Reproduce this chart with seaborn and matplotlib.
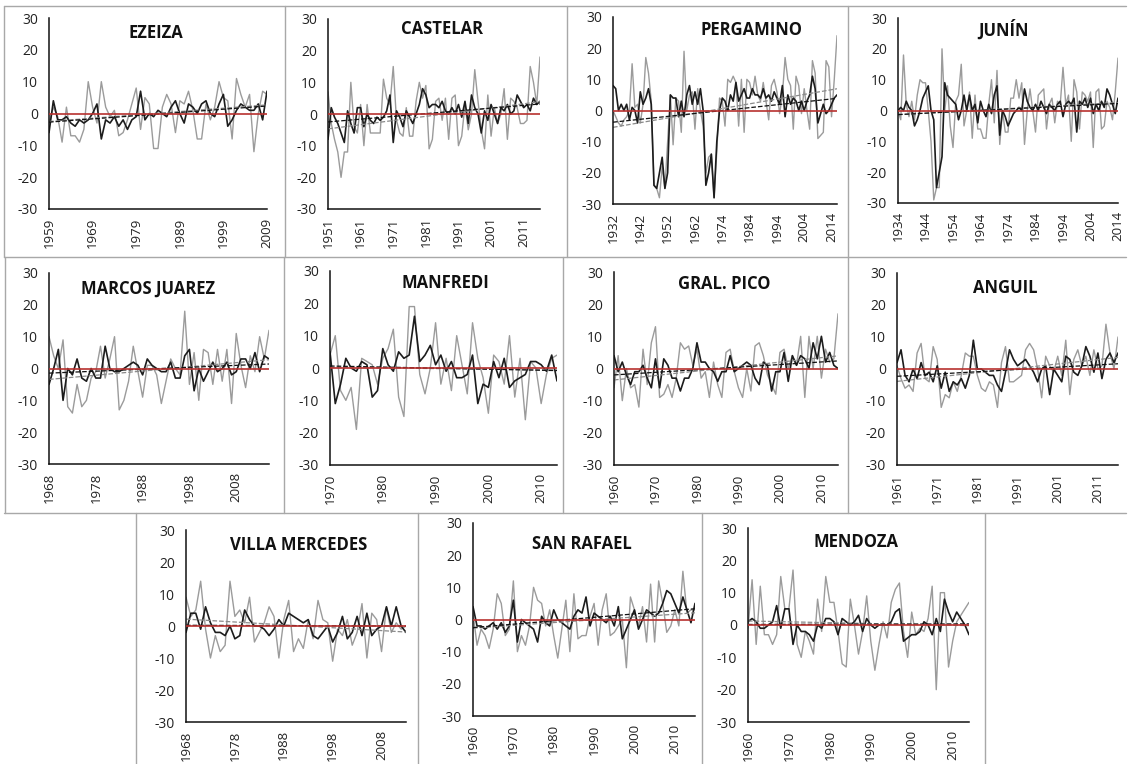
import numpy as np
import matplotlib
matplotlib.use("Agg")
import matplotlib.pyplot as plt
import seaborn as sns
from matplotlib.lines import Line2D

# ---------------- data ----------------
ezeiza_labels = ["1959", "1969", "1979", "1989", "1999", "2009"]
ezeiza_black = [-6, 4, -2, -2, -1, -3, -4, -2, -3, -2, 0, 3, -8, -2, -3, -1, -4, -2, -5, -2,
                -1, 7, -2, 0, -1, 1, 0, -1, 2, 4, 0, -3, 3, 2, 0, 3, 4, 0, -1, 3,
                6, -4, -2, 1, 3, 2, 1, 1, 3, -2, 7]
ezeiza_gray = [-3, 2, -1, -9, 2, -7, -7, -9, -5, 10, 2, -3, 10, 2, -1, 1, -7, -6, -2, 3,
               8, -5, 5, 3, -11, -11, 2, 6, 3, -6, 4, 3, 7, 1, -8, -8, 3, -2, 2, 10,
               5, 4, -8, 11, 6, 2, 6, -12, 0, 7, 6]

castelar_labels = ["1951", "1961", "1971", "1981", "1991", "2001", "2011"]
castelar_black = [-8, 2, -1, -3, -6, -9, 1, -3, -6, 2, 2, -4, 0, -2, -3, -1, -2, -1, 1, 6,
                  -9, 1, -1, -4, 1, -1, -3, 0, 3, 8, 6, 2, 3, 3, 2, 4, 1, 0, 2, 0,
                  3, -1, 4, -3, 6, 2, 0, -6, 1, -2, 3, 0, -3, 2, 1, 3, 0, 1, 6, 4,
                  2, 3, 1, 5, 3, 4]
castelar_gray = [7, -3, -8, -12, -20, -12, -12, 10, -4, -6, 3, -10, 3, -6, -6, -6, -6, 11, 5, 3,
                 15, -2, -6, -7, 2, -7, -7, 4, 10, 5, 9, -11, -8, 4, 5, -2, 5, -8, 5, 6,
                 -10, -7, 3, -5, 0, 14, 4, -5, -11, 6, -7, 2, -3, 0, 8, -8, 5, 4, 2, -3,
                 -3, -2, 15, 10, 3, 18]

pergamino_labels = ["1932", "1942", "1952", "1962", "1974", "1984", "1994", "2004", "2014"]
pergamino_black = [8, 7, 0, 2, 0, 2, -3, 1, 0, -4, 6, 2, 4, 7, 2, -24, -25, -20, -15, -25,
                   -20, 5, 4, 4, -2, 3, -2, 5, 8, 2, 6, 2, 7, 0, -24, -20, -14, -28, -10, 0,
                   4, 3, 0, 5, 3, 9, 3, 5, 7, 4, 4, 7, 5, 5, 4, 7, 4, 5, 3, 6,
                   4, 2, 8, -2, 5, 2, 4, 3, 0, 3, 0, 3, 5, 11, 7, -4, -1, 2, -1, 0,
                   2, 4, 5]
pergamino_gray = [0, -2, -4, -5, -3, -2, 0, 15, 1, 2, -4, 2, 17, 12, 3, -24, -25, -28, -18, -25,
                  -10, 5, -11, 4, 3, -7, 19, 0, 5, 6, -6, 7, 0, -5, -20, -15, -14, -28, -13, 4,
                  3, -5, 10, 9, 11, 9, -5, 10, -7, 10, 9, 5, 11, 5, 3, 9, 3, -3, 8, 10,
                  6, -1, 5, 17, 10, 8, -6, 11, 8, -1, 7, 0, -6, 16, 12, -9, -8, -7, 16, 14,
                  -2, 10, 24]

junin_labels = ["1934", "1944", "1954", "1964", "1974", "1984", "1994", "2004", "2014"]
junin_black = [0, 1, 0, 3, 1, 0, -5, -3, 0, 4, 6, 8, 0, -3, -25, -20, -15, 9, 5, 4,
               3, 2, -3, 0, 5, 0, 5, 0, 2, -4, 3, 0, -2, 2, -1, 5, 8, -8, 0, -2,
               -5, -3, -1, 0, 1, 0, 7, 3, 1, 0, 2, 0, 3, 1, -1, 2, 1, 0, 2, 3,
               -2, 2, 3, 2, 4, -7, 3, 2, 4, 1, 4, -1, 2, 0, 3, 1, 7, 5, 2, -1, 4]
junin_gray = [0, -3, 18, 2, -2, 3, -3, 5, 10, 9, 9, 0, -10, -29, -25, -25, 20, 0, 8, -5,
              -12, 3, 5, 15, -5, 0, 6, -9, 5, -6, -6, -9, -9, 2, 10, -4, 13, -11, 0, -7,
              -7, 4, 4, 10, 4, 9, -11, 0, 7, 0, -7, 5, 6, 7, -6, 2, 4, -4, 3, 2,
              14, 2, 5, -10, 10, 6, -6, 6, 5, 3, 6, -12, 6, 7, -6, -5, 3, 1, -3, 6, 17]

marcos_labels = ["1968", "1978", "1988", "1998", "2008"]
marcos_black = [-5, 0, 6, -10, 0, -2, 3, -3, -4, 0, -3, -3, 7, 0, -1, -1, 0, 1, 2, 1,
                -2, 3, 1, 0, -1, -1, 2, -3, -3, 4, 6, -7, 0, -4, -1, 2, -1, 0, 2, -2,
                -1, 3, 3, 0, 5, -1, 4, 3]
marcos_gray = [10, 4, 0, 9, -12, -14, -5, -12, -10, -3, -1, 7, -3, 3, 10, -13, -10, -4, 7, -1,
               -9, 1, 1, -2, -11, -4, 3, 0, -2, 18, -5, 5, -10, 6, 5, -5, 6, -4, 6, -11,
               11, 1, -6, 4, -1, 10, 3, 12]

manfredi_labels = ["1970", "1980", "1990", "2000", "2010"]
manfredi_black = [5, -11, -5, 3, 0, -1, 2, 1, -9, -7, 6, 1, -1, 5, 3, 4, 16, 2, 4, 7,
                  1, 4, -1, 2, -3, -3, -2, 4, -11, -5, -6, 2, -3, 3, -6, -4, -3, -2, 2, 2,
                  1, -1, 4, -4]
manfredi_gray = [4, 10, -7, -10, -6, -19, 3, 2, 1, -5, 3, 6, 12, -9, -15, 19, 19, -2, -8, 0,
                 14, -5, 3, -7, 10, 1, -8, 14, 3, -3, -14, 4, 2, -5, 10, -9, 3, -16, 2, 0,
                 -11, -2, 3, 4]

pico_labels = ["1960", "1970", "1980", "1990", "2000", "2010"]
pico_black = [4, -1, 2, -2, -5, -1, -1, 1, -3, -6, 3, -6, 3, 1, -3, -3, -7, -3, -3, 0,
              8, 2, 2, 0, -1, -4, -1, -1, 4, -1, 0, 1, 2, 1, -3, -5, 2, 1, -7, -1,
              -1, 5, -4, 4, 1, 4, 3, 0, 8, 3, 10, 2, 5, 1, 0]
pico_gray = [-6, 4, -10, 0, -6, -5, -12, 6, -5, 8, 13, -9, -8, -5, -9, -3, 8, 6, 7, 1,
             6, -3, -1, -9, 2, -5, -9, 5, 6, -1, -6, -9, 0, -7, 7, 8, 4, -2, -5, -8,
             5, 6, 0, 4, 1, 10, -9, 10, 0, 10, -3, 6, 2, 3, 17]

anguil_labels = ["1961", "1971", "1981", "1991", "2001", "2011"]
anguil_black = [2, 6, -2, -4, 0, -3, 2, -2, -1, -4, 1, -6, -1, -7, -4, -5, -3, -6, -2, 9,
                0, 0, -1, -2, -2, -5, -7, -1, 6, 3, 1, 2, 3, 1, -1, -4, 0, 1, -8, 0,
                -2, -4, 4, 3, -1, -2, 1, 7, 4, -1, 5, -3, 3, 5, 2, 5]
anguil_gray = [1, -3, -6, -5, -7, 5, 8, -3, -4, 7, 3, -12, -8, -9, -4, -7, -2, 5, 4, 4,
               -2, -6, -7, -4, -5, -12, 2, 7, -4, -4, -3, -2, 6, 8, 6, 0, -9, 4, 1, -1,
               4, -2, 9, -8, 3, 6, 1, 4, -2, 6, 0, 1, 14, 5, 0, 10]

villa_labels = ["1968", "1978", "1988", "1998", "2008"]
villa_black = [-2, 4, 4, -1, 6, 1, -2, -2, -3, 0, -4, -3, 5, 2, 0, 0, -1, -3, -1, 2,
               0, 4, 3, 2, 1, 2, -3, -4, -2, 0, -5, -2, 3, -4, -2, 3, -3, 4, -3, -1,
               0, 6, 0, 6, 0, -2]
villa_gray = [9, 3, 5, 14, -1, -10, -3, -8, -6, 14, 3, 5, 1, 9, -5, -2, 1, 6, 3, -10,
              2, 8, -8, -4, -7, 2, -4, 8, 2, 1, -11, -1, -3, 2, -6, -2, 7, -10, 4, 2,
              -8, 6, -2, 1, -1, 0]

rafael_labels = ["1960", "1970", "1980", "1990", "2000", "2010"]
rafael_black = [4, -2, -2, -3, -2, -1, -3, -1, -4, -2, 6, -7, 0, -1, -2, -3, -7, 1, -1, -2,
                3, 0, -1, -2, -3, 1, 3, 2, 7, -2, 2, 1, 0, -1, 1, -2, 4, -6, -3, 0,
                3, -3, 0, 3, 2, 1, 2, 5, 9, 8, 5, 2, 7, 3, -1, 5]
rafael_gray = [2, -8, -3, -5, -9, -3, 8, 5, -5, -3, 12, -10, -5, -8, -2, 10, 6, 5, -2, 3,
               -5, -12, -3, 6, -10, 8, -6, -5, -5, 1, 5, -8, 3, 8, -5, -4, -2, 0, -15, 7,
               3, -2, 4, -7, 11, -7, 12, 5, -4, -2, 3, -2, 15, 2, 3, 3]

mendoza_labels = ["1960", "1970", "1980", "1990", "2000", "2010"]
mendoza_black = [1, 2, 1, -1, -1, 0, 1, 6, -1, 5, 5, -6, 0, -2, -2, -3, -5, 0, -1, 2,
                 2, 1, -3, 2, 1, 0, 1, 3, -2, 2, 0, -1, 0, 0, 0, 1, 4, 5, -5, -4,
                 -3, -3, -2, 1, 0, -3, 2, -2, 8, 4, 1, 4, 2, 0, -3]
mendoza_gray = [-1, 14, -6, 12, -3, -3, -6, -3, 15, 5, 5, 17, -6, -10, -2, -5, -9, 8, -2, 15,
                7, 7, -2, -12, -13, 8, 0, -9, -2, 9, -5, -14, -6, 1, -4, 7, 11, 13, -2, -10,
                4, -3, -1, -2, 2, 12, -20, 10, 10, -13, -5, 1, 3, 5, 7]

y_ticks = [-30, -20, -10, 0, 10, 20, 30]

# ---------------- layout (pixel boxes of the plot areas) ----------------
W, H = 1129, 764
panels = [
    ("EZEIZA", ezeiza_black, ezeiza_gray, ezeiza_labels, (49, 267, 18, 209), (0.49, 0.92)),
    ("CASTELAR", castelar_black, castelar_gray, castelar_labels, (328, 540, 19, 209), (0.54, 0.945)),
    ("PERGAMINO", pergamino_black, pergamino_gray, pergamino_labels, (613, 837, 17, 204), (0.62, 0.93)),
    ("JUNÍN", junin_black, junin_gray, junin_labels, (898, 1118, 18, 203), (0.48, 0.94)),
    ("MARCOS JUAREZ", marcos_black, marcos_gray, marcos_labels, (49, 269, 273, 464), (0.45, 0.92)),
    ("MANFREDI", manfredi_black, manfredi_gray, manfredi_labels, (330, 557, 271, 465), (0.51, 0.94)),
    ("GRAL. PICO", pico_black, pico_gray, pico_labels, (614, 838, 272, 465), (0.49, 0.94)),
    ("ANGUIL", anguil_black, anguil_gray, anguil_labels, (897, 1118, 273, 465), (0.49, 0.92)),
    ("VILLA MERCEDES", villa_black, villa_gray, villa_labels, (186, 406, 530, 722), (0.51, 0.92)),
    ("SAN RAFAEL", rafael_black, rafael_gray, rafael_labels, (473, 695, 523, 716), (0.49, 0.89)),
    ("MENDOZA", mendoza_black, mendoza_gray, mendoza_labels, (748, 969, 528, 722), (0.49, 0.93)),
]

sns.set_style("white")
plt.rcParams["font.family"] = ["Open Sans", "DejaVu Sans"]
plt.rcParams["axes.unicode_minus"] = False

fig = plt.figure(figsize=(W / 100, H / 100), dpi=100)
fig.patch.set_facecolor("white")

BLACK = "#1c1c1c"
GRAY = "#9b9b9b"
RED = "#b8312f"

for name, black, gray, labels, (L, R, T, B), (tx, ty) in panels:
    ax = fig.add_axes([L / W, 1 - B / H, (R - L) / W, (B - T) / H])
    n = len(black)
    x = np.arange(n)
    sns.lineplot(x=x, y=np.array(gray, dtype=float), ax=ax, color=GRAY, lw=1.0)
    sns.lineplot(x=x, y=np.array(black, dtype=float), ax=ax, color=BLACK, lw=1.2)
    sns.regplot(x=x, y=np.array(gray, dtype=float), ax=ax, scatter=False, ci=None,
                line_kws=dict(color="#8a8a8a", ls="--", lw=0.9))
    sns.regplot(x=x, y=np.array(black, dtype=float), ax=ax, scatter=False, ci=None,
                line_kws=dict(color="#111111", ls="--", lw=0.9))
    ax.axhline(0, color=RED, lw=1.2, zorder=6)
    ax.set_xlim(0, n - 1)
    ax.set_ylim(-30, 30)
    ax.set_yticks(y_ticks)
    ax.set_yticklabels([str(v) for v in y_ticks])
    ax.set_xticks(list(range(0, 10 * len(labels), 10)))
    ax.set_xticklabels(labels, rotation=90)
    ax.set_xlabel("")
    ax.set_ylabel("")
    ax.tick_params(axis="both", length=0, colors="#222222")
    ax.tick_params(axis="y", pad=8, labelsize=10)
    ax.tick_params(axis="x", pad=6, labelsize=9.5)
    for s in ["top", "right"]:
        ax.spines[s].set_visible(False)
    for s in ["left", "bottom"]:
        ax.spines[s].set_color("#111111")
        ax.spines[s].set_linewidth(1.1)
    ax.set_facecolor("white")
    ax.text(tx, ty, name, transform=ax.transAxes, ha="center", va="center",
            fontsize=12, fontweight="bold", color="#111111")

# table-like cell borders
def hline(y, x0, x1):
    fig.add_artist(Line2D([x0 / W, x1 / W], [1 - y / H, 1 - y / H], transform=fig.transFigure,
                          color="#a8a8a8", lw=1.0))

def vline(x, y0, y1):
    fig.add_artist(Line2D([x / W, x / W], [1 - y0 / H, 1 - y1 / H], transform=fig.transFigure,
                          color="#a8a8a8", lw=1.0))

hline(6, 4, 1126)
hline(257, 4, 1126)
hline(513, 4, 1126)
for xv in [4, 285, 567, 848]:
    vline(xv, 6, 257)
for xv in [5, 284, 563, 848]:
    vline(xv, 257, 513)
for xv in [136, 418, 702, 985]:
    vline(xv, 513, 764)

fig.savefig("out.png", dpi=100, facecolor="white")
